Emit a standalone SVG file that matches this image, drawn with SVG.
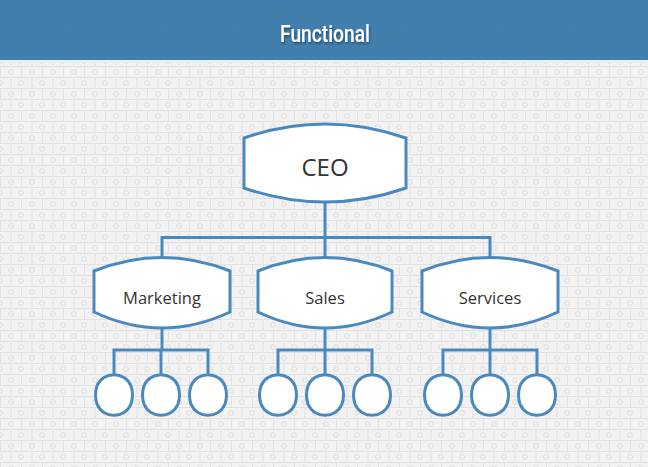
<svg xmlns="http://www.w3.org/2000/svg" width="648" height="467" viewBox="0 0 648 467">
  <defs>
    <pattern id="brick" x="0" y="0" width="21" height="22" patternUnits="userSpaceOnUse">
      <rect width="21" height="22" fill="#f2f2f2"/>
      <path d="M0,0.5 H21 M0,11.5 H21 M0.5,0 V11 M11,11 V22" stroke="#e2e2e2" stroke-width="1" fill="none"/>
      <circle cx="11" cy="6" r="2.4" fill="none" stroke="#d6d6d6" stroke-width="0.7"/>
      <circle cx="0" cy="17" r="2.4" fill="none" stroke="#d6d6d6" stroke-width="0.7"/>
      <circle cx="21" cy="17" r="2.4" fill="none" stroke="#d6d6d6" stroke-width="0.7"/>
    </pattern>
    <filter id="shadow" x="-10%" y="-20%" width="120%" height="160%">
      <feDropShadow dx="1" dy="2" stdDeviation="0.8" flood-color="#163f5e" flood-opacity="0.7"/>
    </filter>
    <style>
      .node { fill: #ffffff; stroke: #4a89c0; stroke-width: 3; }
      .conn { fill: none; stroke: #4a89c0; stroke-width: 3; }
      .lbl { font-family: "Open Sans", "Lato", sans-serif; fill: #333333; text-anchor: middle; }
    </style>
  </defs>

  <rect width="648" height="467" fill="url(#brick)"/>
  <g id="header">
    <rect x="0" y="0" width="648" height="60" fill="#3778a8"/>
    <rect x="0" y="0" width="648" height="60" fill="url(#brick)" opacity="0.06"/>
    <rect x="0" y="60" width="648" height="3" fill="#e6eff6"/>
    <text x="325" y="42" font-family="Roboto, 'Open Sans', sans-serif" font-weight="500" font-size="23" fill="#ffffff" text-anchor="middle" textLength="90" lengthAdjust="spacingAndGlyphs" filter="url(#shadow)">Functional</text>
  </g>

  <g id="connectors">
    <path class="conn" d="M325,202 V237.5 M162,271 V237.5 H490 V271 M325,237.5 V271"/>
    <path class="conn" d="M162,325 V350 M114,380 V350 H208 V380 M161,350 V380"/>
    <path class="conn" d="M325,325 V350 M278,380 V350 H372 V380 M325,350 V380"/>
    <path class="conn" d="M490,325 V350 M443,380 V350 H537 V380 M490,350 V380"/>
  </g>

  <g id="ceo">
    <path class="node" d="M244,138 Q325,110 406,138 L406,188 Q325,216 244,188 Z"/>
    <text class="lbl" x="325" y="176" font-size="24">CEO</text>
  </g>

  <g id="marketing">
    <path class="node" d="M94,271 Q162,244 230,271 L230,312 Q162,344 94,312 Z"/>
    <text class="lbl" x="162" y="304" font-size="16.5">Marketing</text>
  </g>
  <g id="sales">
    <path class="node" d="M258,271 Q325,244 392,271 L392,312 Q325,344 258,312 Z"/>
    <text class="lbl" x="325" y="304" font-size="16.5">Sales</text>
  </g>
  <g id="services">
    <path class="node" d="M422,271 Q490,244 558,271 L558,312 Q490,344 422,312 Z"/>
    <text class="lbl" x="490" y="304" font-size="16.5">Services</text>
  </g>

  <g id="m1"><path class="node" d="M97,386 C103,371 125,371 131,386 Q134,395 131,404 C125,419 103,419 97,404 Q94,395 97,386 Z"/></g>
  <g id="m2"><path class="node" d="M144,386 C150,371 172,371 178,386 Q181,395 178,404 C172,419 150,419 144,404 Q141,395 144,386 Z"/></g>
  <g id="m3"><path class="node" d="M191,386 C197,371 219,371 225,386 Q228,395 225,404 C219,419 197,419 191,404 Q188,395 191,386 Z"/></g>
  <g id="s1"><path class="node" d="M261,386 C267,371 289,371 295,386 Q298,395 295,404 C289,419 267,419 261,404 Q258,395 261,386 Z"/></g>
  <g id="s2"><path class="node" d="M308,386 C314,371 336,371 342,386 Q345,395 342,404 C336,419 314,419 308,404 Q305,395 308,386 Z"/></g>
  <g id="s3"><path class="node" d="M355,386 C361,371 383,371 389,386 Q392,395 389,404 C383,419 361,419 355,404 Q352,395 355,386 Z"/></g>
  <g id="v1"><path class="node" d="M426,386 C432,371 454,371 460,386 Q463,395 460,404 C454,419 432,419 426,404 Q423,395 426,386 Z"/></g>
  <g id="v2"><path class="node" d="M473,386 C479,371 501,371 507,386 Q510,395 507,404 C501,419 479,419 473,404 Q470,395 473,386 Z"/></g>
  <g id="v3"><path class="node" d="M520,386 C526,371 548,371 554,386 Q557,395 554,404 C548,419 526,419 520,404 Q517,395 520,386 Z"/></g>
</svg>
